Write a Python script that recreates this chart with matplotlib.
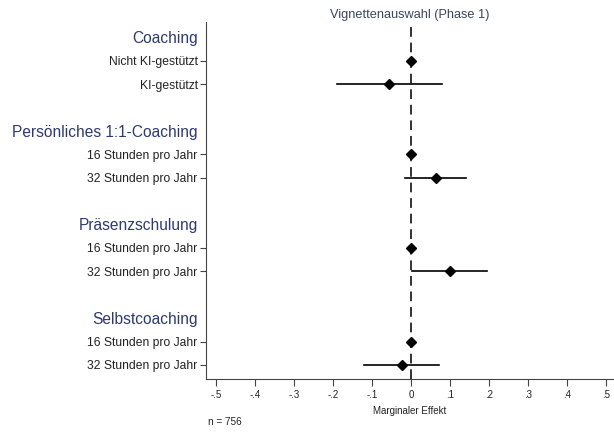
import matplotlib
matplotlib.use("Agg")
import matplotlib.pyplot as plt

plt.rcParams['font.family'] = ['Liberation Sans', 'DejaVu Sans']

# rows: group headers and levels, top to bottom
labels = ['Coaching', 'Nicht KI-gestützt', 'KI-gestützt', '',
          'Persönliches 1:1-Coaching', '16 Stunden pro Jahr', '32 Stunden pro Jahr', '',
          'Präsenzschulung', '16 Stunden pro Jahr', '32 Stunden pro Jahr', '',
          'Selbstcoaching', '16 Stunden pro Jahr', '32 Stunden pro Jahr']
is_header = [True, False, False, False,
             True, False, False, False,
             True, False, False, False,
             True, False, False]

# estimates (None = header / blank row)
est = [None, 0.0, -0.056, None,
       None, 0.0, 0.064, None,
       None, 0.0, 0.100, None,
       None, 0.0, -0.024]
ci_lo = [None, 0.0, -0.190, None,
         None, 0.0, -0.015, None,
         None, 0.0, 0.002, None,
         None, 0.0, -0.120]
ci_hi = [None, 0.0, 0.079, None,
         None, 0.0, 0.141, None,
         None, 0.0, 0.195, None,
         None, 0.0, 0.072]

xticks = [-0.5, -0.4, -0.3, -0.2, -0.1, 0, 0.1, 0.2, 0.3, 0.4, 0.5]
xticklabels = ['-.5', '-.4', '-.3', '-.2', '-.1', '0', '.1', '.2', '.3', '.4', '.5']

header_color = '#2e3a6e'
text_color = '#222222'

fig = plt.figure(figsize=(6.14, 4.33), dpi=100)
ax = fig.add_axes([206 / 614, 1 - 379 / 433, 1 - 206 / 614, (379 - 22) / 433])

ax.axvline(0, color='#333333', lw=1.4, ls=(0, (5, 3)), zorder=1)

for i, (e, lo, hi) in enumerate(zip(est, ci_lo, ci_hi)):
    if e is None:
        continue
    if hi > lo:
        ax.plot([lo, hi], [i, i], color='black', lw=1.2, zorder=2)
    ax.plot(e, i, marker='D', color='black', ms=5.5, zorder=3)

ax.set_ylim(14.6, -0.65)
ax.set_xlim(-0.5 - 10 / 391, 0.5 + 8 / 391)

ax.set_yticks(range(len(labels)))
ax.set_yticklabels(labels)
for lab, h in zip(ax.get_yticklabels(), is_header):
    if h:
        lab.set_fontsize(11.2)
        lab.set_color(header_color)
    else:
        lab.set_fontsize(8.7)
        lab.set_color(text_color)
ax.tick_params(axis='y', length=4, width=0.8, color='#444444', pad=2)
# hide tick marks on header / blank rows
for tick, h, lab in zip(ax.yaxis.get_major_ticks(), is_header, labels):
    if h or lab == '':
        tick.tick1line.set_visible(False)
        if h:
            tick.set_pad(2)

ax.set_xticks(xticks)
ax.set_xticklabels(xticklabels, fontsize=7, color=text_color)
ax.tick_params(axis='x', length=5, width=0.8, color='#444444', pad=3)
ax.set_xlabel('Marginaler Effekt', fontsize=7, color=text_color, labelpad=4)

for s in ['top', 'right']:
    ax.spines[s].set_visible(False)
for s in ['left', 'bottom']:
    ax.spines[s].set_color('#444444')
    ax.spines[s].set_linewidth(0.8)

ax.set_title('Vignettenauswahl (Phase 1)', fontsize=9.2, color='#3a4560', pad=3)

fig.text(208 / 614, 1 - 422 / 433, 'n = 756', fontsize=7.2, color=text_color,
         ha='left', va='center')

plt.savefig('out.png', dpi=100)
